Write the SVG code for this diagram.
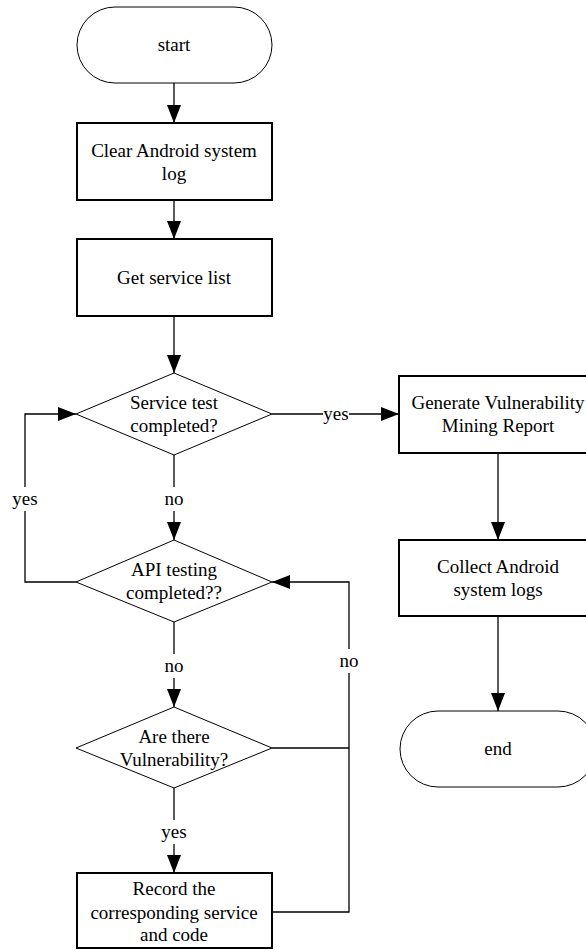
<svg xmlns="http://www.w3.org/2000/svg" width="586" height="950" viewBox="0 0 586 950">
<style>
.term{fill:#fff;stroke:#000;stroke-width:1}
.box{fill:#fff;stroke:#000;stroke-width:2}
.dia{fill:#fff;stroke:#000;stroke-width:1}
.t{font-size:19px;fill:#000;text-anchor:middle}
.c{fill:none;stroke:#000;stroke-width:1.3}
.bg{fill:#fff}
</style>
<defs>
<marker id="arr" markerUnits="userSpaceOnUse" markerWidth="18" markerHeight="14" refX="18" refY="7" orient="auto">
<path d="M0,0 L18,7 L0,14 Z" fill="#000"/>
</marker>
</defs>
<rect width="586" height="950" fill="#fff"/>
<g font-family="'Times New Roman', 'Liberation Serif', 'DejaVu Serif', serif">
<g id="connectors">
<path class="c" d="M174,83 V123" marker-end="url(#arr)"/>
<path class="c" d="M174,200 V239" marker-end="url(#arr)"/>
<path class="c" d="M174,316 V373" marker-end="url(#arr)"/>
<path class="c" d="M174,455 V540" marker-end="url(#arr)"/>
<path class="c" d="M174,622 V707" marker-end="url(#arr)"/>
<path class="c" d="M174,788 V873" marker-end="url(#arr)"/>
<path class="c" d="M76,582 H25 V414 H76" marker-end="url(#arr)"/>
<path class="c" d="M272,414 H399" marker-end="url(#arr)"/>
<path class="c" d="M272,912 H349 V582 H272" marker-end="url(#arr)"/>
<path class="c" d="M272,748 H349"/>
<path class="c" d="M498,453 V540" marker-end="url(#arr)"/>
<path class="c" d="M498,616 V711" marker-end="url(#arr)"/>
<rect class="bg" x="10" y="487" width="30" height="24"/>
<text class="t" x="25" y="505">yes</text>
<rect class="bg" x="160" y="487" width="28" height="24"/>
<text class="t" x="174" y="505">no</text>
<rect class="bg" x="160" y="654" width="28" height="24"/>
<text class="t" x="174" y="672">no</text>
<rect class="bg" x="335" y="649" width="28" height="24"/>
<text class="t" x="349" y="667">no</text>
<rect class="bg" x="160" y="820" width="28" height="24"/>
<text class="t" x="174" y="838">yes</text>
<rect class="bg" x="323" y="405" width="26" height="20"/>
<text class="t" x="336" y="420">yes</text>
</g>
<g id="start">
<rect class="term" x="77" y="7" width="195" height="76" rx="38" ry="38"/>
<text class="t" x="174" y="51">start</text>
</g>
<g id="clear">
<rect class="box" x="77" y="123" width="195" height="77"/>
<text class="t" x="174" y="157">Clear Android system</text>
<text class="t" x="174" y="180">log</text>
</g>
<g id="getlist">
<rect class="box" x="77" y="239" width="195" height="77"/>
<text class="t" x="174" y="284">Get service list</text>
</g>
<g id="d1">
<polygon class="dia" points="174,373 272,414 174,455 76,414"/>
<text class="t" x="174" y="409">Service test</text>
<text class="t" x="174" y="432">completed?</text>
</g>
<g id="d2">
<polygon class="dia" points="174,540 272,582 174,622 76,582"/>
<text class="t" x="174" y="576">API testing</text>
<text class="t" x="174" y="599">completed??</text>
</g>
<g id="d3">
<polygon class="dia" points="174,707 272,748 174,788 76,748"/>
<text class="t" x="174" y="743">Are there</text>
<text class="t" x="174" y="766">Vulnerability?</text>
</g>
<g id="record">
<rect class="box" x="77" y="873" width="195" height="75"/>
<text class="t" x="174" y="895">Record the</text>
<text class="t" x="174" y="919">corresponding service</text>
<text class="t" x="174" y="941">and code</text>
</g>
<g id="generate">
<rect class="box" x="399" y="376" width="197" height="77"/>
<text class="t" x="498" y="409">Generate Vulnerability</text>
<text class="t" x="498" y="432">Mining Report</text>
</g>
<g id="collect">
<rect class="box" x="399" y="540" width="197" height="76"/>
<text class="t" x="498" y="573">Collect Android</text>
<text class="t" x="498" y="596">system logs</text>
</g>
<g id="end">
<rect class="term" x="400" y="711" width="196" height="76" rx="38" ry="38"/>
<text class="t" x="498" y="755">end</text>
</g>
</g>
</svg>
